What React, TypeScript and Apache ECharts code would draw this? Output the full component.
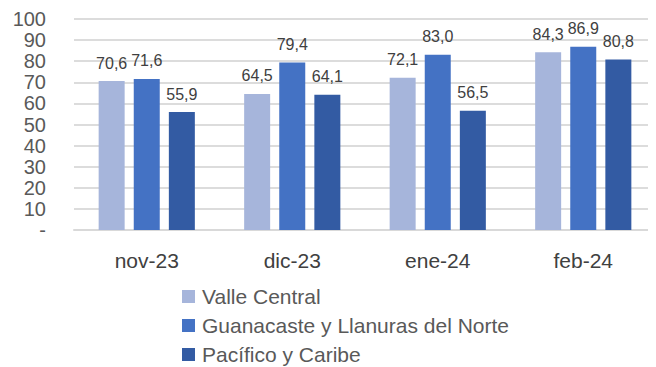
import React, { useEffect, useRef } from "react";
import * as echarts from "echarts";

const categories = ["nov-23", "dic-23", "ene-24", "feb-24"];
const seriesNames = ["Valle Central", "Guanacaste y Llanuras del Norte", "Pacífico y Caribe"];
const valleCentral = [70.6, 64.5, 72.1, 84.3];
const guanacaste = [71.6, 79.4, 83.0, 86.9];
const pacificoCaribe = [55.9, 64.1, 56.5, 80.8];
const colors = ["#A6B5DB", "#4472C4", "#335BA3"];

const FONT = "'Liberation Sans', Arial, sans-serif";

export default function App() {
  const ref = useRef<HTMLDivElement>(null);
  useEffect(() => {
    if (!ref.current) return;
    const chart = echarts.init(ref.current, undefined, { renderer: "svg" });
    const data = [valleCentral, guanacaste, pacificoCaribe];
    chart.setOption({
      animation: false,
      textStyle: { fontFamily: FONT },
      grid: { left: 74, top: 19, width: 600, height: 211 },
      legend: {
        orient: "vertical",
        left: 182,
        top: 286,
        padding: 0,
        itemWidth: 13,
        itemHeight: 13,
        itemGap: 8,
        icon: "rect",
        textStyle: { fontSize: 21, color: "#595959", fontFamily: FONT, padding: [0, 0, 0, 2] },
        data: seriesNames,
      },
      xAxis: {
        type: "category",
        data: categories,
        axisLine: { lineStyle: { color: "#D9D9D9", width: 2 } },
        axisTick: { show: false },
        axisLabel: { fontSize: 21, color: "#404040", margin: 20, fontFamily: FONT },
      },
      yAxis: {
        type: "value",
        min: 0,
        max: 100,
        interval: 10,
        axisLine: { show: false },
        axisTick: { show: false },
        splitLine: { lineStyle: { color: "#DCDCDC", width: 2 } },
        axisLabel: {
          fontSize: 20,
          color: "#595959",
          margin: 28,
          fontFamily: FONT,
          formatter: (v: number) => (v === 0 ? "-" : String(v)),
        },
      },
      series: seriesNames.map((name, i) => ({
        name,
        type: "bar",
        data: data[i],
        barWidth: 26,
        barGap: "35%",
        itemStyle: { color: colors[i] },
        label: {
          show: true,
          position: "top",
          distance: 10,
          fontSize: 16,
          color: "#404040",
          fontFamily: FONT,
          formatter: (p: any) => Number(p.value).toFixed(1).replace(".", ","),
        },
      })),
    });
    return () => chart.dispose();
  }, []);
  return <div ref={ref} style={{ width: 656, height: 390, margin: -8 }} />;
}
